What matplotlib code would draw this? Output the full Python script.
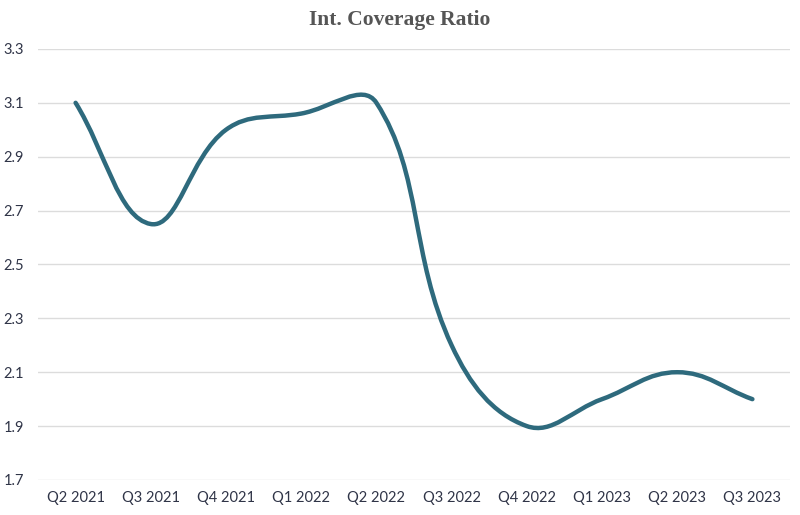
import numpy as np
import matplotlib
matplotlib.use("Agg")
import matplotlib.pyplot as plt
from matplotlib.path import Path
from matplotlib.patches import PathPatch

quarters = ["Q2 2021", "Q3 2021", "Q4 2021", "Q1 2022", "Q2 2022",
            "Q3 2022", "Q4 2022", "Q1 2023", "Q2 2023", "Q3 2023"]
ratio = [3.1, 2.65, 3.0, 3.06, 3.1, 2.2, 1.9, 2.0, 2.1, 2.0]
yticks = [1.7, 1.9, 2.1, 2.3, 2.5, 2.7, 2.9, 3.1, 3.3]

line_col = "#2e6a7d"
grid_col = "#dcdcdc"
text_col = "#2f3447"

fig = plt.figure(figsize=(8, 5.15), dpi=100)
ax = fig.add_axes([0.0475, 0.068, 0.94, 0.837])
ax.set_xlim(-0.5, len(quarters) - 0.5)
ax.set_ylim(1.7, 3.3)

# smooth curve like a tension 0.4 spline, control points worked out in pixels
pts = ax.transData.transform(np.column_stack([np.arange(len(ratio)), ratio]))
t = 0.4
cps = []
for i in range(len(pts)):
    prev = pts[max(i - 1, 0)]
    cur = pts[i]
    nxt = pts[min(i + 1, len(pts) - 1)]
    d01 = np.hypot(*(cur - prev))
    d12 = np.hypot(*(nxt - cur))
    tot = d01 + d12
    s01 = d01 / tot if tot else 0
    s12 = d12 / tot if tot else 0
    cps.append((cur - t * s01 * (nxt - prev), cur + t * s12 * (nxt - prev)))

verts = [pts[0]]
codes = [Path.MOVETO]
for i in range(1, len(pts)):
    verts += [cps[i - 1][1], cps[i][0], pts[i]]
    codes += [Path.CURVE4] * 3
verts = ax.transData.inverted().transform(np.array(verts))
ax.add_patch(PathPatch(Path(verts, codes), fill=False, edgecolor=line_col,
                       lw=3.2, capstyle="round", joinstyle="round", zorder=3))

ax.set_xticks(range(len(quarters)))
ax.set_xticklabels(quarters)
ax.set_yticks(yticks)
ax.set_yticklabels([f"{v:.1f}" for v in yticks])
ax.grid(axis="y", color=grid_col, lw=1)
ax.set_axisbelow(True)
for s in ax.spines.values():
    s.set_visible(False)
ax.tick_params(length=0, labelsize=10.5, colors=text_col)
ax.tick_params(axis="y", pad=10)
ax.tick_params(axis="x", pad=8)
for lab in ax.get_xticklabels() + ax.get_yticklabels():
    lab.set_fontfamily("Lato")
    lab.set_color(text_col)

fig.text(0.5, 0.962, "Int. Coverage Ratio", ha="center", va="center",
         fontsize=15.5, fontweight="bold", family="Liberation Serif", color="#555555")

fig.savefig("out.png", dpi=100)
